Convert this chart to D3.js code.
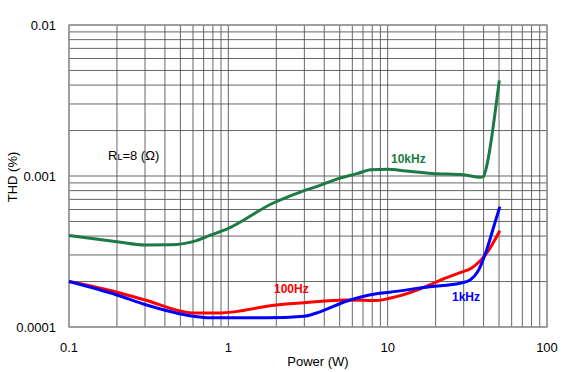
<!DOCTYPE html>
<html>
<head>
<meta charset="utf-8">
<script src="https://cdn.jsdelivr.net/npm/d3@7"></script>
<style>
  body { margin: 0; background: #fff; }
  text { font-family: "Liberation Sans", Arial, sans-serif; }
</style>
</head>
<body>
<script>
// THD vs output power, RL = 8 ohm
var width = 576, height = 372;
var margin = {top: 25, right: 29, bottom: 45, left: 69};
var w = width - margin.left - margin.right;
var h = height - margin.top - margin.bottom;

// data (power W, THD %)
var power10k = [0.1, 0.2, 0.3, 0.43, 0.63, 0.7, 1.0, 1.9, 2.8, 3.8, 4.6, 6.5, 7.8, 10, 13, 19, 30, 38, 39.8, 42.8, 45.6, 48, 50.2];
var thd10k   = [0.000403, 0.000367, 0.000349, 0.00035, 0.000373, 0.00039, 0.00045, 0.00066, 0.00078, 0.00087, 0.00094, 0.00104, 0.0011, 0.00111, 0.00108, 0.00104, 0.00102, 0.00098, 0.00099, 0.00131, 0.002, 0.003, 0.0043];

var power100 = [0.1, 0.2, 0.3, 0.6, 0.89, 2.0, 3.0, 5.5, 8.5, 10.3, 18.4, 21.1, 28.5, 33.5, 41.8, 50.6];
var thd100   = [0.0002, 0.00017, 0.000151, 0.000124, 0.000124, 0.00014, 0.000145, 0.000151, 0.00015, 0.000155, 0.00019, 0.000203, 0.000229, 0.000245, 0.000308, 0.000434];

var power1k = [0.1, 0.2, 0.3, 0.6, 0.77, 1.74, 3.0, 3.76, 5.5, 8.5, 10.3, 18.4, 28.5, 32.9, 37.2, 41.8, 46.3, 50.6];
var thd1k   = [0.0002, 0.000163, 0.000141, 0.000118, 0.000115, 0.000115, 0.000118, 0.000126, 0.000148, 0.000166, 0.00017, 0.000185, 0.000195, 0.000205, 0.000238, 0.000324, 0.000461, 0.000627];

var xTickLabels = ["0.1", "1", "10", "100"];
var yTickLabels = ["0.0001", "0.001", "0.01"];

var svg = d3.select("body").append("svg")
    .attr("width", width)
    .attr("height", height);

var g = svg.append("g")
    .attr("transform", "translate(" + margin.left + "," + margin.top + ")");

var x = d3.scaleLog().domain([0.1, 100]).range([0, w]);
var y = d3.scaleLog().domain([0.0001, 0.01]).range([h, 0]);

//grid lines, every 1..9 of each decade
var xGrid = x.ticks(), yGrid = y.ticks();
g.selectAll(".vgrid").data(xGrid).enter().append("line")
    .attr("x1", function(d) { return x(d); })
    .attr("x2", function(d) { return x(d); })
    .attr("y1", 0).attr("y2", h)
    .attr("stroke", "#555").attr("stroke-width", 0.9);
g.selectAll(".hgrid").data(yGrid).enter().append("line")
    .attr("y1", function(d) { return y(d); })
    .attr("y2", function(d) { return y(d); })
    .attr("x1", 0).attr("x2", w)
    .attr("stroke", "#555").attr("stroke-width", 0.9);

g.append("rect")
    .attr("width", w).attr("height", h)
    .attr("fill", "none").attr("stroke", "#999").attr("stroke-width", 1.5);

//tick labels
g.selectAll(".xlab").data(xTickLabels).enter().append("text")
    .attr("x", function(d) { return x(+d); })
    .attr("y", h + 25)
    .attr("text-anchor", "middle")
    .attr("font-size", 13)
    .text(function(d) { return d; });
g.selectAll(".ylab").data(yTickLabels).enter().append("text")
    .attr("x", -13)
    .attr("y", function(d) { return y(+d); })
    .attr("dy", "0.35em")
    .attr("text-anchor", "end")
    .attr("font-size", 13)
    .text(function(d) { return d; });

//axis titles
svg.append("text")
    .attr("x", 318).attr("y", 366)
    .attr("text-anchor", "middle")
    .attr("font-size", 13)
    .text("Power (W)");
svg.append("text")
    .attr("transform", "translate(17,177) rotate(-90)")
    .attr("text-anchor", "middle")
    .attr("font-size", 13)
    .text("THD (%)");

//curves
var line = d3.line()
    .x(function(d) { return x(d[0]); })
    .y(function(d) { return y(d[1]); })
    .curve(d3.curveMonotoneX);

var series = [
  {p: power10k, t: thd10k, color: "#1b7a45"},
  {p: power100, t: thd100, color: "#ff0000"},
  {p: power1k,  t: thd1k,  color: "#0000ff"}
];
series.forEach(function(s) {
  g.append("path")
    .datum(d3.zip(s.p, s.t))
    .attr("d", line)
    .attr("fill", "none")
    .attr("stroke", s.color)
    .attr("stroke-width", 3)
    .attr("stroke-linejoin", "round");
});

//labels
var rl = svg.append("text")
    .attr("x", 108).attr("y", 160)
    .attr("font-size", 13);
rl.append("tspan").text("R");
rl.append("tspan").attr("font-size", 9).text("L");
rl.append("tspan").text("=8 (Ω)");

svg.append("text").attr("x", 391).attr("y", 163)
    .attr("font-size", 12).attr("font-weight", "bold")
    .attr("fill", "#1b7a45").text("10kHz");
svg.append("text").attr("x", 274).attr("y", 293)
    .attr("font-size", 12).attr("font-weight", "bold")
    .attr("fill", "#ff0000").text("100Hz");
svg.append("text").attr("x", 452).attr("y", 301)
    .attr("font-size", 12).attr("font-weight", "bold")
    .attr("fill", "#0000ff").text("1kHz");
</script>
</body>
</html>
